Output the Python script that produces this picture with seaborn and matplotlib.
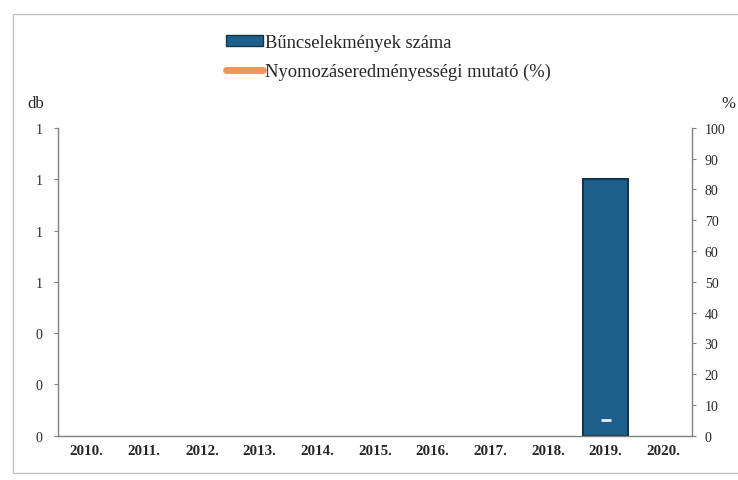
import numpy as np
import pandas as pd
import seaborn as sns
import matplotlib.pyplot as plt
from matplotlib.patches import Rectangle
from matplotlib.lines import Line2D
from matplotlib.ticker import FormatStrFormatter

years = ['2010.', '2011.', '2012.', '2013.', '2014.', '2015.',
         '2016.', '2017.', '2018.', '2019.', '2020.']
crimes = [0, 0, 0, 0, 0, 0, 0, 0, 0, 1, 0]
rate_pct = [np.nan, np.nan, np.nan, np.nan, np.nan, np.nan,
            np.nan, np.nan, np.nan, 5, np.nan]

bar_label = 'Bűncselekmények száma'
line_label = 'Nyomozáseredményességi mutató (%)'

sns.set_style('white')
plt.rcParams['font.family'] = ['Liberation Serif', 'DejaVu Serif']

df = pd.DataFrame({'year': years, 'crimes': crimes})

fig = plt.figure(figsize=(7.38, 4.81), dpi=100)
ax = fig.add_axes([0.078, 0.092, 0.860, 0.64])

sns.barplot(data=df, x='year', y='crimes', ax=ax, color='#1e5f8b',
            saturation=1, width=0.77, edgecolor='#16344a', linewidth=1.5)
# empty years should not leave an outline on the axis
for p in ax.patches:
    if p.get_height() == 0:
        p.set_linewidth(0)

ax.set_ylim(0, 1.2)
ax.set_yticks(np.arange(0, 1.21, 0.2))
ax.yaxis.set_major_formatter(FormatStrFormatter('%.0f'))
ax.set_xlabel('')
ax.set_ylabel('')
ax.tick_params(axis='y', labelsize=10, length=3, direction='out', left=True,
               color='#808080', pad=8)
ax.tick_params(axis='x', labelsize=10.8, length=0, pad=6)
for lbl in ax.get_xticklabels():
    lbl.set_fontweight('bold')

ax2 = ax.twinx()
ax2.plot(np.arange(len(years)), rate_pct, color='#f4935c', lw=3,
         marker='_', markersize=7, markeredgecolor='#e8eef2', markeredgewidth=2)
ax2.set_ylim(0, 100)
ax2.set_yticks(np.arange(0, 101, 10))
ax2.tick_params(axis='y', labelsize=10, length=3, direction='out', right=True,
                color='#808080', pad=6)
ax.set_xlim(-0.5, len(years) - 0.5)

for a in (ax, ax2):
    a.spines['top'].set_visible(False)
    for s in ('left', 'right', 'bottom'):
        a.spines[s].set_color('#808080')
        a.spines[s].set_linewidth(1)
ax.spines['right'].set_visible(False)
ax2.spines['left'].set_visible(False)
ax2.spines['bottom'].set_visible(False)

fig.text(0.037, 0.775, 'db', fontsize=12)
fig.text(0.978, 0.775, '%', fontsize=12)

handles = [Rectangle((0, 0), 1, 1, facecolor='#1e5f8b', edgecolor='#16344a'),
           Line2D([0], [0], color='#f4935c', lw=5, solid_capstyle='round')]
fig.legend(handles, [bar_label, line_label], loc='upper left',
           bbox_to_anchor=(0.284, 0.962), frameon=False, fontsize=13.3,
           handlelength=2.0, handletextpad=0.1, labelspacing=0.62,
           handleheight=0.5)

fig.patches.append(Rectangle((13 / 738, 7 / 481), 1.0, 459 / 481,
                             transform=fig.transFigure, fill=False,
                             edgecolor='#c4c4c4', linewidth=1))

fig.savefig('out.png', dpi=100)
